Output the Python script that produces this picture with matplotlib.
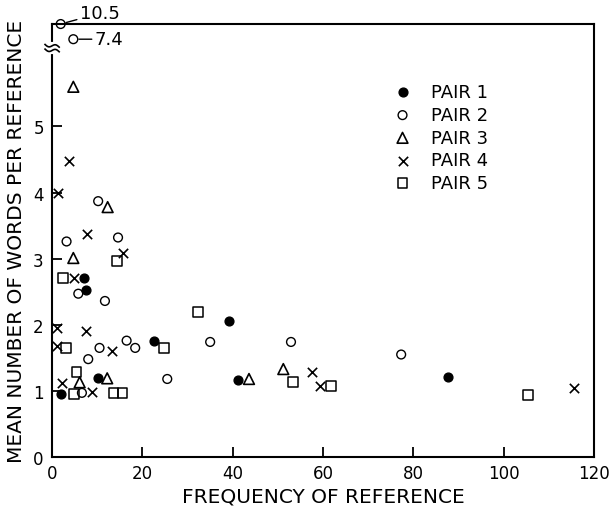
"""
Mean number of words per reference vs frequency of reference, five pairs
"""
import numpy as np
import matplotlib
matplotlib.use("Agg")
import matplotlib.pyplot as plt
import matplotlib.transforms as mtransforms

# frequency of reference (x) and mean number of words per reference (y)
pair1_x = [1.9, 7.1, 7.6, 10.2, 22.6, 39.2, 41.2, 87.6]
pair1_y = [0.95, 2.70, 2.53, 1.19, 1.76, 2.06, 1.17, 1.21]

pair2_x = [1.9, 4.7, 10.2, 3.2, 14.6, 5.8, 11.7, 16.5, 18.4, 10.5, 8.0, 6.6,
           25.5, 35.0, 52.9, 77.3]
pair2_y = [10.5, 7.4, 3.87, 3.26, 3.32, 2.47, 2.36, 1.76, 1.65, 1.65, 1.48,
           0.97, 1.18, 1.74, 1.74, 1.55]

pair3_x = [4.7, 12.3, 4.7, 6.1, 12.2, 43.6, 51.2]
pair3_y = [5.6, 3.78, 3.01, 1.13, 1.19, 1.18, 1.33]

pair4_x = [3.7, 1.3, 7.8, 15.6, 4.9, 1.0, 7.4, 1.0, 13.3, 2.1, 8.8, 57.5,
           59.4, 115.6]
pair4_y = [4.47, 4.0, 3.37, 3.09, 2.70, 1.95, 1.90, 1.68, 1.60, 1.12, 0.98,
           1.28, 1.07, 1.05]

pair5_x = [14.4, 2.5, 3.1, 24.8, 5.4, 4.9, 13.6, 15.6, 32.3, 53.4, 61.7, 105.3]
pair5_y = [2.97, 2.71, 1.65, 1.65, 1.29, 0.95, 0.97, 0.97, 2.19, 1.14, 1.07,
           0.94]

labels = ['PAIR 1', 'PAIR 2', 'PAIR 3', 'PAIR 4', 'PAIR 5']

# values above the axis break get squeezed into the top strip
BREAK_LO = 7.4


def squeeze(v):
    v = np.asarray(v, dtype=float)
    return np.where(v > 6.0, 6.32 + (v - BREAK_LO) * 0.074, v)


plt.rcParams['font.family'] = 'DejaVu Sans'

fig = plt.figure(figsize=(6.13, 5.10), dpi=100)
ax = fig.add_axes([0.085, 0.102, 0.884, 0.849])

styles = [
    dict(marker='o', s=40, facecolor='black', edgecolor='black'),
    dict(marker='o', s=40, facecolor='none', edgecolor='black', linewidth=1.0),
    dict(marker='^', s=60, facecolor='none', edgecolor='black', linewidth=1.2),
    dict(marker='x', s=45, color='black', linewidth=1.2),
    dict(marker='s', s=50, facecolor='none', edgecolor='black', linewidth=1.1),
]
series = [(pair1_x, pair1_y), (pair2_x, pair2_y), (pair3_x, pair3_y),
          (pair4_x, pair4_y), (pair5_x, pair5_y)]

handles = []
for (xs, ys), st, lab in zip(series, styles, labels):
    h = ax.scatter(xs, squeeze(ys), label=lab, clip_on=False, zorder=3, **st)
    handles.append(h)

ax.set_xlim(0, 120)
ax.set_ylim(0, 6.55)
ax.set_xticks(np.arange(0, 121, 20))
ax.set_yticks(np.arange(0, 6, 1))

for sp in ax.spines.values():
    sp.set_linewidth(1.5)
ax.tick_params(direction='in', length=7, width=1.3, labelsize=12, pad=5)
ax.tick_params(axis='y', pad=6)

ax.set_xlabel('FREQUENCY OF REFERENCE', fontsize=14.5, labelpad=3)
ax.set_ylabel('MEAN NUMBER OF WORDS PER REFERENCE', fontsize=14.5, labelpad=5)

# labels for the off-scale points
ax.annotate('10.5', xy=(pair2_x[0], squeeze(pair2_y[0])), xytext=(6.1, 6.71),
            fontsize=13, va='center', ha='left', annotation_clip=False,
            arrowprops=dict(arrowstyle='-', color='black', lw=1.0,
                            shrinkA=0, shrinkB=4))
ax.annotate('7.4', xy=(pair2_x[1], squeeze(pair2_y[1])), xytext=(9.4, 6.32),
            fontsize=13, va='center', ha='left', annotation_clip=False,
            arrowprops=dict(arrowstyle='-', color='black', lw=1.0,
                            shrinkA=0, shrinkB=4))

# axis break marks on the y spine
trans = mtransforms.blended_transform_factory(ax.transAxes, ax.transData)
ax.plot([0, 0], [6.13, 6.24], color='white', lw=3, transform=trans,
        clip_on=False, zorder=4)
t = np.linspace(-1, 1, 30)
for y0 in (6.15, 6.22):
    ax.plot(0.013 * t, y0 + 0.025 * np.sin(np.pi * t) - 0.02 * t, color='black',
            lw=1.2, transform=trans, clip_on=False, zorder=5)

leg = ax.legend(handles=handles, loc='upper left', bbox_to_anchor=(0.6, 0.88),
                frameon=False, fontsize=13, handletextpad=0.6,
                labelspacing=0.26, borderaxespad=0, scatterpoints=1)

fig.savefig('out.png', dpi=100)
